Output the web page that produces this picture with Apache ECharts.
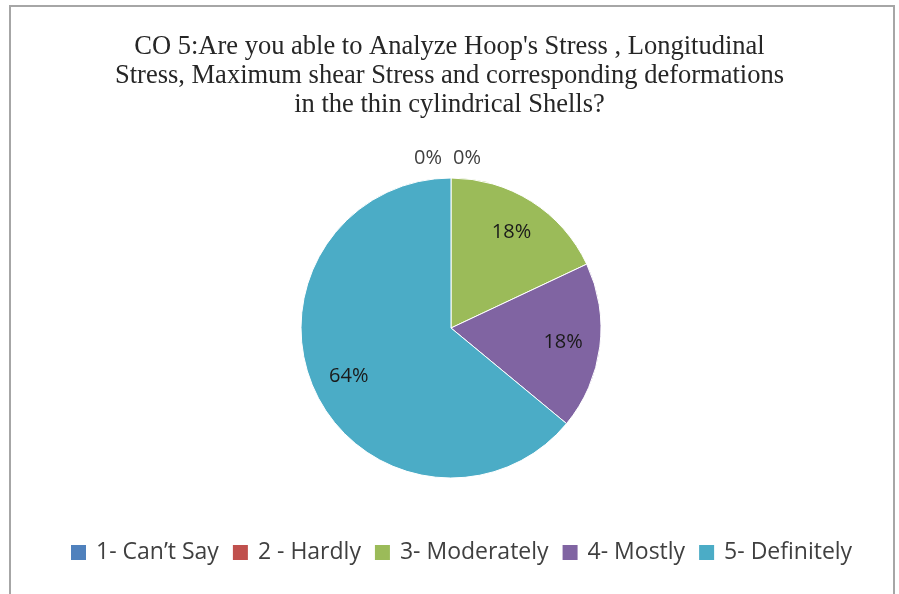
<!DOCTYPE html>
<html>
<head>
<meta charset="utf-8">
<script src="https://cdn.jsdelivr.net/npm/echarts@6/dist/echarts.min.js"></script>
<style>html,body{margin:0;padding:0;background:#fff;}#c{width:899px;height:594px;}</style>
</head>
<body>
<div id="c"></div>
<script>
const titleText = "CO 5:Are you able to Analyze Hoop's Stress , Longitudinal\nStress, Maximum shear Stress and corresponding deformations\nin the thin cylindrical Shells?";
const categories = ["1- Can\u2019t Say", "2 - Hardly", "3- Moderately", "4- Mostly", "5- Definitely"];
const values = [0, 0, 18, 18, 64];
const colors = ["#4F81BD", "#C0504D", "#9BBB59", "#8064A2", "#4BACC6"];

const data = categories.map((c, i) => ({ name: c, value: values[i] }));
const chart = echarts.init(document.getElementById('c'));
chart.setOption({
  animation: false,
  color: colors,
  graphic: [{
    type: 'rect', shape: { x: 10, y: 6, width: 884, height: 600 },
    style: { fill: 'none', stroke: '#a6a6a6', lineWidth: 2 }, silent: true, z: -1
  }],
  title: {
    text: titleText, left: 'center', top: 28,
    textStyle: { fontFamily: 'Liberation Serif', fontSize: 26.5, lineHeight: 29, fontWeight: 'normal', color: '#262626' }
  },
  legend: {
    bottom: 25, left: 64, icon: 'rect', itemWidth: 17, itemHeight: 17, itemGap: 12,
    data: categories,
    textStyle: { fontFamily: 'Open Sans', fontSize: 23, color: '#404040', padding: [0, 0, 0, 4] }
  },
  series: [{
    type: 'pie', center: [451, 328], radius: 150, startAngle: 90, clockwise: true,
    avoidLabelOverlap: false, data: data,
    itemStyle: { borderColor: '#fff', borderWidth: 1 },
    emphasis: { disabled: true },
    label: { show: true, position: 'outside', formatter: p => p.value === 0 ? p.value + '%' : '',
      fontFamily: 'Open Sans', fontSize: 20, color: '#404040' },
    labelLine: { show: false, length: 8, length2: 0 },
    labelLayout: p => ({ align: 'center', dx: p.dataIndex === 0 ? -18 : 21, dy: -12 })
  }, {
    type: 'pie', center: [451, 328], radius: 220, startAngle: 90, clockwise: true,
    silent: true, data: data, z: 3,
    itemStyle: { color: 'rgba(0,0,0,0)' },
    emphasis: { disabled: true },
    label: { show: true, position: 'inside', formatter: p => p.value === 0 ? '' : p.value + '%',
      fontFamily: 'Open Sans', fontSize: 20, color: '#1a1a1a' },
    labelLine: { show: false }
  }]
});
</script>
</body>
</html>
